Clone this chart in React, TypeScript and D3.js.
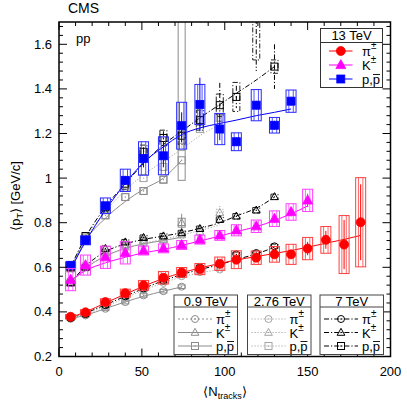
import React from "react";
import * as d3 from "d3";

// multiplicity bins (<N_tracks>)
const nBins = [7, 16, 28, 40, 51, 63, 74, 85, 97, 107, 119, 130, 140, 150, 161, 172, 182];

// 13 TeV
const pi13 = [0.378, 0.398, 0.444, 0.484, 0.519, 0.553, 0.577, 0.592, 0.616, 0.634, 0.643, 0.658, 0.658, 0.684, 0.723, 0.702, 0.802];
const pi13Sys = [0.01, 0.012, 0.015, 0.018, 0.022, 0.028, 0.022, 0.025, 0.03, 0.04, 0.03, 0.035, 0.045, 0.05, 0.06, 0.13, 0.2];
const pi13Err = [0, 0, 0, 0, 0, 0, 0, 0, 0.01, 0.01, 0.01, 0.015, 0.02, 0.03, 0.04, 0.11, 0.17];
const pi13Fit = [0.375, 0.4, 0.44, 0.48, 0.515, 0.55, 0.575, 0.597, 0.617, 0.633, 0.648, 0.662, 0.675, 0.69, 0.708, 0.725, 0.743];

const K13 = [0.545, 0.61, 0.645, 0.665, 0.675, 0.685, 0.7, 0.724, 0.743, 0.766, 0.784, 0.818, 0.848, 0.9];
const K13Sys = [0.05, 0.045, 0.05, 0.05, 0.02, 0.02, 0.02, 0.02, 0.022, 0.025, 0.028, 0.035, 0.037, 0.05];
const K13Err = [0.02, 0.02, 0.01, 0.01, 0.01, 0.01, 0.01, 0.01, 0.01, 0.01, 0.01, 0.02, 0.02, 0.03];
const K13Fit = [0.54, 0.585, 0.62, 0.645, 0.665, 0.68, 0.698, 0.718, 0.74, 0.76, 0.782, 0.81, 0.84, 0.875];

const p13 = [0.609, 0.721, 0.876, 0.99, 1.088, 1.1, 1.235, 1.33, 1.22, 1.163, 1.327, 1.237, 1.345];
const p13Sys = [0.015, 0.02, 0.035, 0.05, 0.075, 0.085, 0.105, 0.09, 0.07, 0.04, 0.07, 0.035, 0.05];
const p13Err = [0, 0, 0, 0.02, 0.04, 0.05, 0.06, 0.12, 0.05, 0.02, 0.02, 0.02, 0.02];
const p13Fit = [0.59, 0.715, 0.856, 0.976, 1.07, 1.14, 1.195, 1.225, 1.245, 1.26, 1.28, 1.295, 1.31];

// 0.9 TeV
const pi09 = [0.369, 0.384, 0.414, 0.444, 0.474, 0.493, 0.513];
const pi09Fit = [0.37, 0.385, 0.415, 0.445, 0.47, 0.493, 0.512];
const K09 = [0.53, 0.6, 0.665, 0.7, 0.72, 0.725, 0.8];
const K09Sys = [0.015, 0.015, 0.015, 0.015, 0.015, 0.015, 0.02];
const K09Err = [0, 0, 0, 0, 0, 0, 0.04];
const K09Fit = [0.53, 0.595, 0.65, 0.685, 0.705, 0.72, 0.735];
const p09 = [0.595, 0.725, 0.833, 0.915, 0.942, 0.993, 1.08];
const p09Sys = [0.012, 0.015, 0.015, 0.015, 0.015, 0.015, 0.09];
const p09SysHi = [0.012, 0.015, 0.015, 0.015, 0.015, 0.015, 1.0];
const p09Fit = [0.59, 0.72, 0.82, 0.895, 0.95, 1.0, 1.08];

// 2.76 TeV
const pi276 = [0.372, 0.388, 0.423, 0.46, 0.495, 0.53, 0.56, 0.578, 0.59];
const pi276Fit = [0.372, 0.39, 0.425, 0.462, 0.497, 0.53, 0.557, 0.575, 0.59];
const K276 = [0.535, 0.605, 0.655, 0.69, 0.71, 0.725, 0.745, 0.76, 0.845];
const K276Err = [0, 0, 0, 0, 0, 0, 0, 0, 0.03];
const K276Fit = [0.535, 0.6, 0.65, 0.685, 0.708, 0.725, 0.745, 0.765, 0.79];
const p276 = [0.6, 0.73, 0.856, 0.957, 1.0, 1.05, 1.14, 1.22, 1.27];
const p276Fit = [0.6, 0.73, 0.85, 0.945, 1.015, 1.075, 1.13, 1.19, 1.24];

// 7 TeV
const pi7 = [0.372, 0.39, 0.43, 0.47, 0.505, 0.54, 0.57, 0.6, 0.613, 0.658, 0.664, 0.694];
const pi7Fit = [0.372, 0.395, 0.432, 0.47, 0.505, 0.54, 0.567, 0.59, 0.612, 0.635, 0.66, 0.69];
const K7 = [0.53, 0.6, 0.684, 0.713, 0.733, 0.74, 0.754, 0.773, 0.814, 0.829, 0.856, 0.916];
const K7Fit = [0.53, 0.605, 0.67, 0.705, 0.725, 0.74, 0.755, 0.775, 0.8, 0.83, 0.865, 0.915];
const p7 = [0.6, 0.74, 0.87, 0.975, 1.118, 1.18, 1.19, 1.26, 1.327, 1.364, 1.78, 1.5];
const p7Sys = [0.015, 0.015, 0.02, 0.025, 0.03, 0.035, 0.04, 0.045, 0.05, 0.065, 0.25, 0.03];
const p7Err = [0, 0, 0, 0, 0.02, 0.03, 0.03, 0.04, 0.1, 0.05, 0.3, 0.1];
const p7Fit = [0.6, 0.735, 0.87, 0.975, 1.065, 1.15, 1.21, 1.27, 1.33, 1.38, 1.44, 1.5];

const xTicks = [0, 50, 100, 150, 200];
const yTicks = [0.2, 0.4, 0.6, 0.8, 1, 1.2, 1.4, 1.6];

type Shape = "circle" | "triangle" | "square";
type Style = { color: string; boxColor: string; dash: string; filled: boolean; boxW: number; inner: boolean };
type Series = {
  n: number[]; v: number[]; sys: number[]; sysHi?: number[]; err?: number[]; fit: number[];
  shape: Shape; style: Style;
};

const s09: Style = { color: "#8c8c8c", boxColor: "#8c8c8c", dash: "none", filled: false, boxW: 7, inner: false };
const s276: Style = { color: "#a6a6a6", boxColor: "#a6a6a6", dash: "1.2,1.8", filled: false, boxW: 7, inner: false };
const s7: Style = { color: "#000", boxColor: "#222", dash: "5,2,1.2,2", filled: false, boxW: 7, inner: false };
const sPi: Style = { color: "#ff0000", boxColor: "#ff4040", dash: "none", filled: true, boxW: 10, inner: true };
const sK: Style = { color: "#ff00ff", boxColor: "#ff40ff", dash: "none", filled: true, boxW: 10, inner: true };
const sP: Style = { color: "#0000ff", boxColor: "#2a2aff", dash: "none", filled: true, boxW: 10, inner: true };

const fill = (k: number, val: number) => Array.from({ length: k }, () => val);

const series: Series[] = [
  { n: nBins.slice(0, 7), v: pi09, sys: fill(7, 0.008), fit: pi09Fit, shape: "circle", style: s09 },
  { n: nBins.slice(0, 7), v: K09, sys: K09Sys, err: K09Err, fit: K09Fit, shape: "triangle", style: s09 },
  { n: nBins.slice(0, 7), v: p09, sys: p09Sys, sysHi: p09SysHi, fit: p09Fit, shape: "square", style: s09 },
  { n: nBins.slice(0, 9), v: pi276, sys: fill(9, 0.008), fit: pi276Fit, shape: "circle", style: s276 },
  { n: nBins.slice(0, 9), v: K276, sys: fill(9, 0.015), err: K276Err, fit: K276Fit, shape: "triangle", style: s276 },
  { n: nBins.slice(0, 9), v: p276, sys: fill(9, 0.015), fit: p276Fit, shape: "square", style: s276 },
  { n: nBins.slice(0, 12), v: pi7, sys: fill(12, 0.01), fit: pi7Fit, shape: "circle", style: s7 },
  { n: nBins.slice(0, 12), v: K7, sys: fill(12, 0.012), fit: K7Fit, shape: "triangle", style: s7 },
  { n: nBins.slice(0, 12), v: p7, sys: p7Sys, err: p7Err, fit: p7Fit, shape: "square", style: s7 },
  { n: nBins.slice(0, 13), v: p13, sys: p13Sys, err: p13Err, fit: p13Fit, shape: "square", style: sP },
  { n: nBins.slice(0, 14), v: K13, sys: K13Sys, err: K13Err, fit: K13Fit, shape: "triangle", style: sK },
  { n: nBins, v: pi13, sys: pi13Sys, err: pi13Err, fit: pi13Fit, shape: "circle", style: sPi },
];

function Marker({ shape, cx, cy, size, color, filled }: { shape: Shape; cx: number; cy: number; size: number; color: string; filled: boolean }) {
  const f = filled ? color : "none";
  const sw = filled ? 0.8 : 1;
  const dot = filled ? null : <circle cx={cx} cy={cy} r={0.7} fill={color} />;
  let m;
  if (shape === "circle") m = <circle cx={cx} cy={cy} r={size / 2} fill={f} stroke={color} strokeWidth={sw} />;
  else if (shape === "square")
    m = <rect x={cx - size / 2} y={cy - size / 2} width={size} height={size} fill={f} stroke={color} strokeWidth={sw} />;
  else
    m = (
      <path
        d={`M${cx},${cy - size * 0.6}L${cx + size * 0.55},${cy + size * 0.4}L${cx - size * 0.55},${cy + size * 0.4}Z`}
        fill={f} stroke={color} strokeWidth={sw}
      />
    );
  return <g>{m}{dot}</g>;
}

const legendLabel = (shape: Shape, tx: number, ty: number) => {
  if (shape === "circle")
    return (
      <text x={tx} y={ty + 5} fontSize={13}>
        π<tspan fontSize={10} dy={-7}>±</tspan>
      </text>
    );
  if (shape === "triangle")
    return (
      <text x={tx} y={ty + 5} fontSize={13}>
        K<tspan fontSize={10} dy={-7}>±</tspan>
      </text>
    );
  // p, p-bar (bar drawn as a short line over the second p)
  return (
    <g>
      <text x={tx} y={ty + 5} fontSize={13}>p,p</text>
      <line x1={tx + 11} x2={tx + 18} y1={ty - 4.5} y2={ty - 4.5} stroke="#000" strokeWidth={0.9} />
    </g>
  );
};

export default function App() {
  const x = d3.scaleLinear().domain([0, 200]).range([59, 390.5]);
  const y = d3.scaleLinear().domain([0.2, 1.7]).range([356.5, 22]);
  const [x0, x1] = x.range();
  const [y0, y1] = y.range();
  const line = d3
    .line<[number, number]>()
    .x((d) => x(d[0]))
    .y((d) => y(d[1]))
    .curve(d3.curveMonotoneX);

  const xMinor = d3.range(0, 201, 10);
  const yMinor = d3.range(0, 38).map((i) => 0.2 + i * 0.04);

  const oldLegends = [
    { title: "0.9 TeV", left: 174, style: s09, piDash: "2,2" },
    { title: "2.76 TeV", left: 247.5, style: s276, piDash: s276.dash },
    { title: "7 TeV", left: 320, style: s7, piDash: s7.dash },
  ];
  const shapes: Shape[] = ["circle", "triangle", "square"];

  return (
    <svg
      width={407}
      height={407}
      style={{ position: "absolute", left: 0, top: 0, background: "#fff" }}
      fontFamily="'Liberation Sans', Arial, Helvetica, sans-serif"
    >
      <defs>
        <clipPath id="plotArea">
          <rect x={x0} y={y1} width={x1 - x0} height={y0 - y1} />
        </clipPath>
      </defs>
      <rect x={0} y={0} width={407} height={407} fill="#fff" />

      <g clipPath="url(#plotArea)">
        {series.map((s, si) => {
          const st = s.style;
          const pts = s.n.map((n, i) => [n, s.fit[i]] as [number, number]);
          return (
            <g key={si}>
              <path d={line(pts) ?? ""} fill="none" stroke={st.color} strokeWidth={1} strokeDasharray={st.dash} />
              {s.n.map((n, i) => {
                const cx = x(n);
                const hi = s.sysHi ? s.sysHi[i] : s.sys[i];
                const top = y(s.v[i] + hi);
                const bot = y(s.v[i] - s.sys[i]);
                const e = s.err ? s.err[i] : 0;
                return (
                  <g key={i}>
                    <rect
                      x={cx - st.boxW / 2}
                      y={top}
                      width={st.boxW}
                      height={bot - top}
                      fill="none"
                      stroke={st.boxColor}
                      strokeWidth={1}
                      strokeDasharray={st.filled ? "none" : st.dash}
                    />
                    {st.inner && (
                      <g stroke={st.boxColor} strokeWidth={0.8}>
                        <line x1={cx - 2.2} x2={cx - 2.2} y1={top} y2={bot} />
                        <line x1={cx + 2.2} x2={cx + 2.2} y1={top} y2={bot} />
                      </g>
                    )}
                    {e > 0 && (
                      <line
                        x1={cx}
                        x2={cx}
                        y1={y(s.v[i] + e)}
                        y2={y(s.v[i] - e)}
                        stroke={st.color}
                        strokeWidth={1}
                        strokeDasharray={st.filled ? "none" : st.dash}
                      />
                    )}
                  </g>
                );
              })}
              {s.n.map((n, i) => (
                <Marker
                  key={"m" + i}
                  shape={s.shape}
                  cx={x(n)}
                  cy={y(s.v[i])}
                  size={st.filled ? (s.shape === "square" ? 8 : 9) : 7}
                  color={st.color}
                  filled={st.filled}
                />
              ))}
            </g>
          );
        })}
      </g>

      {/* frame and ticks */}
      <g stroke="#000" strokeWidth={1}>
        {xMinor.map((v) => {
          const len = v % 50 === 0 ? 8 : 4;
          return (
            <g key={"xt" + v}>
              <line x1={x(v)} x2={x(v)} y1={y0} y2={y0 - len} />
              <line x1={x(v)} x2={x(v)} y1={y1} y2={y1 + len} />
            </g>
          );
        })}
        {yMinor.map((v, i) => {
          const len = i % 5 === 0 ? 8 : 4;
          return (
            <g key={"yt" + i}>
              <line x1={x0} x2={x0 + len} y1={y(v)} y2={y(v)} />
              <line x1={x1} x2={x1 - len} y1={y(v)} y2={y(v)} />
            </g>
          );
        })}
      </g>
      <rect x={x0} y={y1} width={x1 - x0} height={y0 - y1} fill="none" stroke="#000" strokeWidth={1.5} />

      {xTicks.map((v) => (
        <text key={"xl" + v} x={x(v)} y={376} fontSize={13} textAnchor="middle">
          {v}
        </text>
      ))}
      {yTicks.map((v) => (
        <text key={"yl" + v} x={52} y={y(v) + 4.5} fontSize={13} textAnchor="end">
          {d3.format("~g")(v)}
        </text>
      ))}

      <text x={68} y={13} fontSize={14}>CMS</text>
      <text x={76} y={43} fontSize={13}>pp</text>

      <text x={225} y={396} fontSize={13} textAnchor="middle">
        ⟨N<tspan fontSize={9} dy={3}>tracks</tspan>
        <tspan dy={-3}>⟩</tspan>
      </text>
      <text transform="translate(20,196) rotate(-90)" fontSize={13} textAnchor="middle">
        ⟨p<tspan fontSize={9} dy={3}>T</tspan>
        <tspan dy={-3}>⟩ [GeV/c]</tspan>
      </text>

      {/* 13 TeV legend */}
      <g>
        <rect x={320.5} y={28.5} width={62} height={59} fill="#fff" stroke="#333" strokeWidth={1} />
        <line x1={320.5} x2={382.5} y1={42.5} y2={42.5} stroke="#333" strokeWidth={1} />
        <text x={351.5} y={40} fontSize={13} textAnchor="middle">13 TeV</text>
        {[sPi, sK, sP].map((st, i) => {
          const ly = 51 + i * 14;
          return (
            <g key={"l13" + i}>
              <line x1={329} x2={352.5} y1={ly} y2={ly} stroke={st.color} strokeWidth={1} />
              <Marker shape={shapes[i]} cx={340.8} cy={ly} size={i === 2 ? 8 : 9} color={st.color} filled />
              {legendLabel(shapes[i], 362, ly)}
            </g>
          );
        })}
      </g>

      {/* lower energy legends */}
      {oldLegends.map((lg) => (
        <g key={lg.title}>
          <rect x={lg.left} y={295} width={63.5} height={59.5} fill="#fff" stroke="#444" strokeWidth={1} />
          <line x1={lg.left} x2={lg.left + 63.5} y1={307} y2={307} stroke="#444" strokeWidth={1} />
          <text x={lg.left + 31.75} y={305.5} fontSize={13} textAnchor="middle">{lg.title}</text>
          {shapes.map((sh, i) => {
            const ly = 319 + i * 13.5;
            return (
              <g key={sh}>
                <line
                  x1={lg.left + 4}
                  x2={lg.left + 38}
                  y1={ly}
                  y2={ly}
                  stroke={lg.style.color}
                  strokeWidth={1}
                  strokeDasharray={i === 0 ? lg.piDash : lg.style.dash}
                />
                <Marker shape={sh} cx={lg.left + 21} cy={ly} size={7} color={lg.style.color} filled={false} />
                {legendLabel(sh, lg.left + 42, ly)}
              </g>
            );
          })}
        </g>
      ))}
    </svg>
  );
}
